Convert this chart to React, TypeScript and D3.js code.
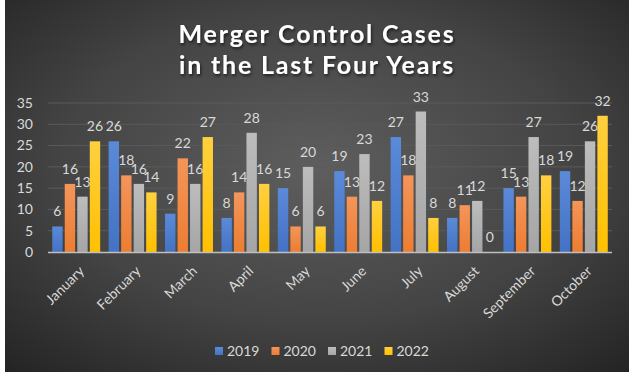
import React from "react";
import * as d3 from "d3";

const months = ["January","February","March","April","May","June","July","August","September","October"];
const years = ["2019","2020","2021","2022"];
const v2019 = [6,26,9,8,15,19,27,8,15,19];
const v2020 = [16,18,22,14,6,13,18,11,13,12];
const v2021 = [13,16,16,28,20,23,33,12,27,26];
const v2022 = [26,14,27,16,6,12,8,0,18,32];
const yTicks = [0,5,10,15,20,25,30,35];
const colors = ["#4472C4","#ED7D31","#A5A5A5","#FFC000"];
const colorsLight = ["#5B8AD9","#F4955A","#BDBDBD","#FFD040"];

const W = 634, H = 377;
const FONT = "Lato, 'Open Sans', sans-serif";

export default function App() {
  const series = [v2019, v2020, v2021, v2022];
  const x = d3.scaleBand().domain(months).range([48, 612]).paddingInner(0.15).paddingOuter(0.075);
  const xs = d3.scaleBand().domain(years).range([0, x.bandwidth()]).paddingInner(0.17);
  const y = d3.scaleLinear().domain([0, 35]).range([252, 103]);
  const legendX = d3.scaleBand().domain(years).range([213, 439]);

  return (
    <svg width={W} height={H} style={{ position: "absolute", left: 0, top: 0, background: "#fff" }} fontFamily={FONT}>
      <defs>
        <radialGradient id="bg" cx="50%" cy="45%" r="75%">
          <stop offset="0%" stopColor="#5e5e5e" />
          <stop offset="55%" stopColor="#444" />
          <stop offset="100%" stopColor="#232323" />
        </radialGradient>
        {colors.map((c, i) => (
          <linearGradient key={i} id={"g" + i} x1="0" y1="0" x2="0" y2="1">
            <stop offset="0%" stopColor={colorsLight[i]} />
            <stop offset="100%" stopColor={c} />
          </linearGradient>
        ))}
        <filter id="sh" x="-10%" y="-10%" width="120%" height="130%">
          <feDropShadow dx="1" dy="2" stdDeviation="1.5" floodColor="#000" floodOpacity="0.6" />
        </filter>
      </defs>
      <rect x={5} y={0} width={624} height={372} fill="url(#bg)" />
      <g fill="#fff" fontWeight="bold" fontSize={25} letterSpacing={1.8} textAnchor="middle" filter="url(#sh)">
        <text x={317} y={43}>Merger Control Cases</text>
        <text x={317} y={74}>in the Last Four Years</text>
      </g>
      {yTicks.map(t => (
        <g key={t}>
          {t > 0 && <line x1={48} x2={612} y1={y(t)} y2={y(t)} stroke="#5a5a5a" strokeWidth={1} />}
          <text x={33} y={y(t)} dy="0.35em" textAnchor="end" fill="#d9d9d9" fontSize={14}>{t}</text>
        </g>
      ))}
      {months.map((m, i) => (
        <g key={m} transform={`translate(${x(m)},0)`}>
          {series.map((s, j) => (
            <g key={j}>
              <rect x={xs(years[j])} y={y(s[i])} width={xs.bandwidth()} height={252 - y(s[i])} fill={`url(#g${j})`} />
              <text x={(xs(years[j]) as number) + xs.bandwidth() / 2} y={y(s[i]) - 10} textAnchor="middle" fill="#d9d9d9" fontSize={14}>{s[i]}</text>
            </g>
          ))}
        </g>
      ))}
      <line x1={48} x2={612} y1={252.5} y2={252.5} stroke="#bfbfbf" strokeWidth={1.5} />
      {months.map(m => {
        const cx = (x(m) as number) + x.bandwidth() / 2;
        return (
          <text key={m} transform={`translate(${cx + 2},${265}) rotate(-45)`} textAnchor="end" dy="0.7em" fill="#d9d9d9" fontSize={14}>{m}</text>
        );
      })}
      {years.map((yr, j) => {
        const lx = legendX(yr) as number;
        return (
          <g key={yr}>
            <rect x={lx + 2} y={347} width={8} height={8} fill={`url(#g${j})`} />
            <text x={lx + 14} y={351} dy="0.35em" fill="#d9d9d9" fontSize={14}>{yr}</text>
          </g>
        );
      })}
    </svg>
  );
}
